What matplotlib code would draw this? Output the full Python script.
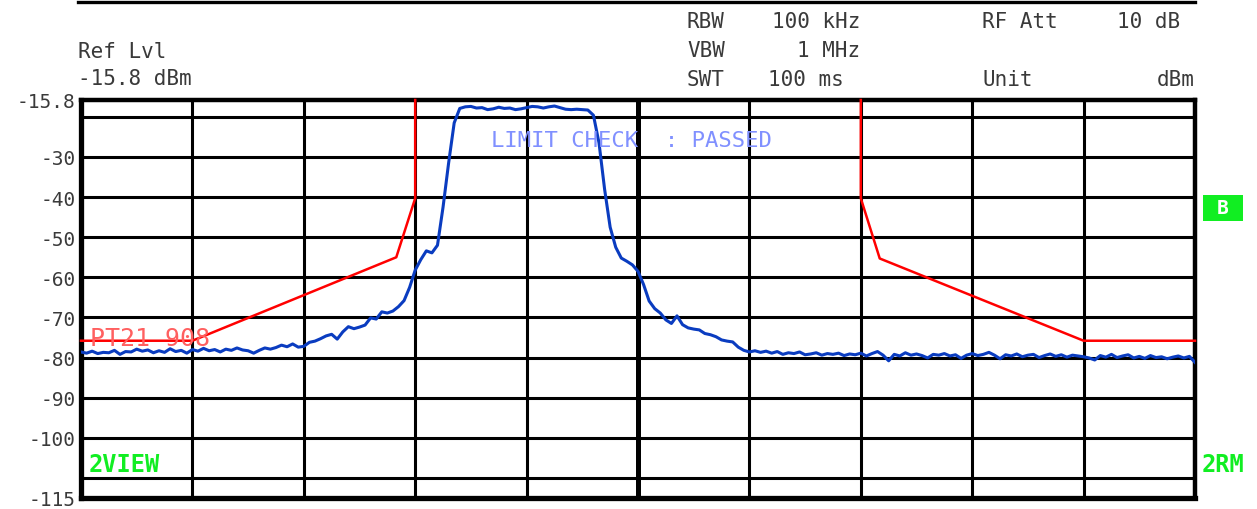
import numpy as np
import matplotlib
matplotlib.use('Agg')
import matplotlib.pyplot as plt
from matplotlib.lines import Line2D
from matplotlib.patches import Rectangle

#################### DATOS ####################

# traza medida (dBm), barrido de 0 a 10 divisiones en pasos de 0.05
traza = [
    -78.6, -78.9, -78.4, -79.0, -78.7, -78.8, -78.2, -79.2, -78.5, -78.6,
    -77.9, -78.4, -78.1, -78.8, -78.3, -78.7, -77.8, -78.5, -78.2, -78.9,
    -78.0, -78.4, -77.7, -78.3, -78.0, -78.6, -77.9, -78.2, -77.6, -78.1,
    -78.3, -78.9, -78.2, -77.6, -77.9, -77.5, -76.9, -77.3, -76.6, -77.4,
    -77.2, -76.2, -75.9, -75.3, -74.6, -74.2, -75.4, -73.6, -72.3, -72.8,
    -72.4, -71.9, -70.1, -70.4, -68.6, -68.9, -68.4, -67.3, -65.8, -62.5,
    -58.2, -55.6, -53.4, -53.9, -52.0, -42.5, -31.5, -21.5, -17.9, -17.5,
    -17.4, -17.8, -17.7, -18.2, -18.0, -17.6, -17.9, -17.8, -18.2, -18.0,
    -17.7, -17.4, -17.5, -17.8, -17.5, -17.3, -17.7, -18.1, -18.2, -18.1,
    -18.2, -18.3, -19.6, -26.5, -38.0, -47.5, -52.5, -55.2, -56.0, -56.9,
    -58.5, -61.8, -65.9, -67.8, -68.9, -70.6, -71.5, -69.6, -71.8, -72.6,
    -72.9, -73.1, -74.0, -74.3, -74.8, -75.6, -75.9, -76.1, -77.4, -78.2,
    -78.6, -78.3, -78.7, -78.4, -78.9, -78.5, -79.2, -78.8, -79.0, -78.6,
    -79.3, -79.1, -78.8, -79.4, -79.0, -79.2, -78.9, -79.5, -79.1, -79.3,
    -78.9, -79.6, -79.0, -78.5, -79.4, -80.8, -79.2, -79.6, -78.8, -79.4,
    -79.1, -79.5, -80.1, -79.2, -79.4, -79.0, -79.6, -79.3, -80.2, -79.4,
    -79.0, -79.5, -79.2, -78.7, -79.4, -80.3, -79.3, -79.6, -79.1, -79.8,
    -79.4, -79.2, -80.0, -79.5, -79.1, -79.7, -79.3, -79.9, -79.4, -79.6,
    -79.8, -80.1, -80.6, -79.5, -79.9, -79.2, -80.0, -79.6, -79.3, -80.1,
    -79.7, -80.2, -79.5, -80.0, -79.8, -80.3, -79.9, -79.6, -80.1, -79.7,
    -81.2,
]
x_traza = np.linspace(0, 10, len(traza))

# linea limite (izquierda y derecha), en divisiones y dBm
lim_izq_x = [0, 1.0, 2.83, 3.0, 3.0]
lim_izq_y = [-75.8, -75.8, -55.0, -40.3, -15.8]
lim_der_x = [7.0, 7.0, 7.17, 9.0, 10]
lim_der_y = [-15.8, -40.3, -55.3, -75.8, -75.8]

# escala vertical
ref_lvl = -15.8
y_min = -115
y_ticks = [-15.8, -30, -40, -50, -60, -70, -80, -90, -100, -115]
y_tick_labels = ['-15.8', '-30', '-40', '-50', '-60', '-70', '-80', '-90', '-100', '-115']
y_grid = [-20, -30, -40, -50, -60, -70, -80, -90, -100, -110]
x_grid = [1, 2, 3, 4, 5, 6, 7, 8, 9]

#################### GRAFICA ####################

W, H = 1257, 510
fig = plt.figure(figsize=(W / 100, H / 100), dpi=100)
fig.patch.set_facecolor('white')

def fx(px):
    return px / W

def fy(py):
    return 1 - py / H

ax = fig.add_axes([fx(81), fy(499), fx(1195) - fx(81), fy(101) - fy(499)])
ax.set_xlim(0, 10)
ax.set_ylim(y_min, ref_lvl)

# rejilla
for g in y_grid:
    ax.axhline(g, color='black', lw=2.2, zorder=1)
for g in x_grid:
    ax.axvline(g, color='black', lw=3.6 if g == 5 else 2.2, zorder=1)

for s in ax.spines.values():
    s.set_linewidth(3.2)
    s.set_color('black')
ax.spines['left'].set_linewidth(3.8)
ax.spines['bottom'].set_linewidth(3.8)

ax.set_xticks([])
ax.set_yticks(y_ticks)
ax.set_yticklabels(y_tick_labels, family='DejaVu Sans Mono', fontsize=14, color='#3a3a3a')
ax.tick_params(axis='y', length=0, pad=4)

# limite y traza
ax.plot(lim_izq_x, lim_izq_y, color='#ff0000', lw=1.8, zorder=3, clip_on=False)
ax.plot(lim_der_x, lim_der_y, color='#ff0000', lw=1.8, zorder=3, clip_on=False)
ax.plot(x_traza, traza, color='#0a3cc0', lw=2.2, zorder=4)

ax.text(0.08, -75.0, 'PT21 908', color='#ff6060', fontsize=18,
        family='DejaVu Sans Mono', va='center', ha='left', zorder=5)
ax.text(3.68, -25.8, 'LIMIT CHECK  : PASSED', color='#8090ff', fontsize=16,
        family='DejaVu Sans Mono', va='center', ha='left', zorder=5)

# encabezado
fig.add_artist(Line2D([fx(78), fx(1195)], [fy(3), fy(3)], color='black', lw=2.4))
mono = dict(family='DejaVu Sans Mono', fontsize=15, color='#3a3a3a', va='center')
fig.text(fx(78), fy(52), 'Ref Lvl', ha='left', **mono)
fig.text(fx(78), fy(79), '-15.8 dBm', ha='left', **mono)
fig.text(fx(687), fy(22), 'RBW', ha='left', **mono)
fig.text(fx(687), fy(51), 'VBW', ha='left', **mono)
fig.text(fx(687), fy(80), 'SWT', ha='left', **mono)
fig.text(fx(860), fy(22), '100 kHz', ha='right', **mono)
fig.text(fx(860), fy(51), '1 MHz', ha='right', **mono)
fig.text(fx(768), fy(80), '100 ms', ha='left', **mono)
fig.text(fx(982), fy(22), 'RF Att', ha='left', **mono)
fig.text(fx(1180), fy(22), '10 dB', ha='right', **mono)
fig.text(fx(982), fy(80), 'Unit', ha='left', **mono)
fig.text(fx(1195), fy(80), 'dBm', ha='right', **mono)

# marcas verdes
verde = '#11ee22'
fig.text(fx(89), fy(465), '2VIEW', ha='left', va='center', color=verde,
         fontsize=17, fontweight='bold', family='DejaVu Sans Mono')
fig.text(fx(1202), fy(465), '2RM', ha='left', va='center', color=verde,
         fontsize=17, fontweight='bold', family='DejaVu Sans Mono')
fig.add_artist(Rectangle((fx(1203), fy(222)), fx(40), fy(196) - fy(222),
                         transform=fig.transFigure, facecolor=verde, edgecolor='none'))
fig.text(fx(1223), fy(209), 'B', ha='center', va='center', color='white',
         fontsize=14, fontweight='bold', family='DejaVu Sans Mono')

fig.savefig('out.png', dpi=100, facecolor='white')
